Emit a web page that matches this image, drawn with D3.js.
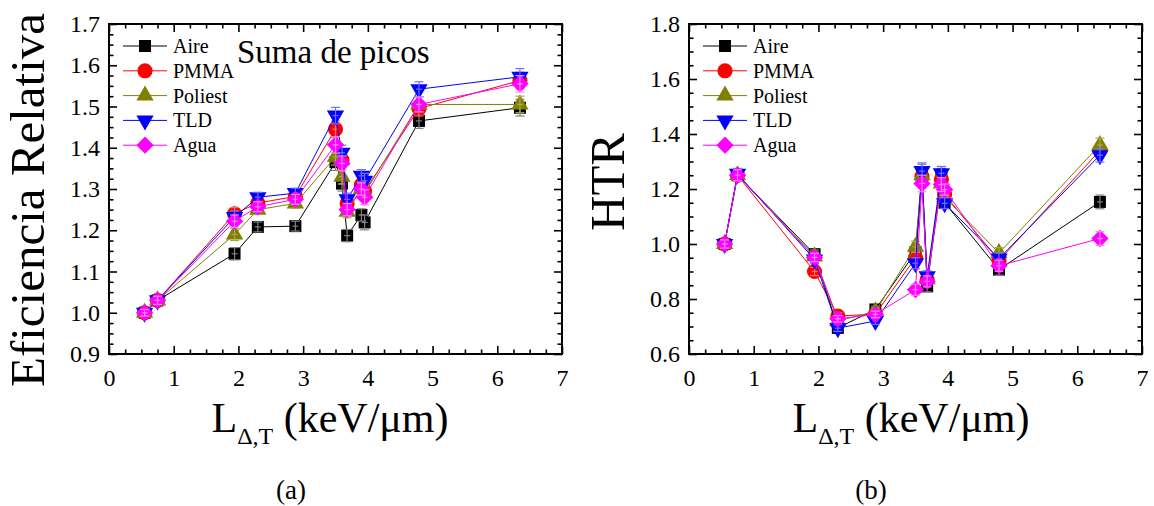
<!DOCTYPE html>
<html><head><meta charset="utf-8">
<script src="https://cdn.jsdelivr.net/npm/d3@7"></script>
<style>
body{margin:0;background:#fff}
svg{display:block;background:#fff}
text{font-family:"Liberation Serif","Times New Roman",serif;fill:#000}
</style>
</head><body>
<svg id="c" width="1154" height="506"></svg>
<script>
// ---------- DATA ----------
const seriesNames = ["Aire", "PMMA", "Poliest", "TLD", "Agua"];
const letX = [0.55, 0.75, 1.94, 2.30, 2.88, 3.50, 3.60, 3.68, 3.90, 3.95, 4.79, 6.35];

// (a) Eficiencia Relativa - Suma de picos
const efAire    = [1.000, 1.030, 1.143, 1.208, 1.210, 1.365, 1.313, 1.187, 1.237, 1.219, 1.465, 1.497];
const efPMMA    = [1.000, 1.030, 1.240, 1.266, 1.282, 1.445, 1.370, 1.265, 1.310, 1.295, 1.495, 1.563];
const efPoliest = [1.000, 1.030, 1.190, 1.250, 1.265, 1.378, 1.330, 1.245, 1.300, 1.290, 1.505, 1.505];
const efTLD     = [1.000, 1.030, 1.232, 1.280, 1.290, 1.478, 1.388, 1.275, 1.332, 1.320, 1.542, 1.572];
const efAgua    = [1.000, 1.030, 1.222, 1.257, 1.275, 1.407, 1.362, 1.250, 1.300, 1.280, 1.505, 1.555];
const efErr     = [0.008, 0.010, 0.015, 0.012, 0.012, 0.020, 0.018, 0.015, 0.015, 0.018, 0.018, 0.020];

// (b) HTR
const htrAire    = [1.000, 1.250, 0.963, 0.695, 0.762, 0.970, 1.260, 0.846, 1.250, 1.150, 0.907, 1.153];
const htrPMMA    = [1.000, 1.250, 0.900, 0.738, 0.745, 0.950, 1.245, 0.870, 1.235, 1.180, 0.940, 1.340];
const htrPoliest = [1.000, 1.250, 0.955, 0.720, 0.755, 0.990, 1.250, 0.872, 1.220, 1.170, 0.967, 1.360];
const htrTLD     = [1.000, 1.255, 0.944, 0.694, 0.720, 0.930, 1.265, 0.883, 1.257, 1.148, 0.947, 1.323];
const htrAgua    = [1.000, 1.250, 0.951, 0.728, 0.744, 0.834, 1.220, 0.864, 1.216, 1.198, 0.921, 1.020];
const htrErr     = [0.015, 0.020, 0.015, 0.012, 0.012, 0.020, 0.030, 0.020, 0.025, 0.020, 0.020, 0.025];

// Tick labels
const xTickVals = [0, 1, 2, 3, 4, 5, 6, 7];
const efTickVals = [0.9, 1.0, 1.1, 1.2, 1.3, 1.4, 1.5, 1.6, 1.7];
const htrTickVals = [0.6, 0.8, 1.0, 1.2, 1.4, 1.6, 1.8];

// ---------- STYLE ----------
const SERIF = '"Liberation Serif","Times New Roman",serif';
const colors = {Aire:"#000000", PMMA:"#ff0000", Poliest:"#808000", TLD:"#0000ff", Agua:"#ff00ff"};
const errColors = {Aire:"#808080", PMMA:"#ff7070", Poliest:"#a8a850", TLD:"#7070ff", Agua:"#ff80ff"};
const symbols = {
  Aire:   {type:d3.symbolSquare, size:144, rot:0},
  PMMA:   {type:d3.symbolCircle, size:180, rot:0},
  Poliest:{type:d3.symbolTriangle, size:130, rot:0},
  TLD:    {type:d3.symbolTriangle, size:130, rot:180},
  Agua:   {type:d3.symbolSquare, size:150, rot:45}
};

const svg = d3.select("#c");
svg.append("rect").attr("width",1154).attr("height",506).attr("fill","#fff");

function drawPanel(cfg) {
  const g = svg.append("g");
  const x = d3.scaleLinear().domain([0, 7]).range([cfg.left, cfg.right]);
  const y = d3.scaleLinear().domain(cfg.yDomain).range([cfg.bottom, cfg.top]);

  const xMinor = d3.range(0, 7.0001, 0.25).filter(v => Math.abs(v - Math.round(v)) > 1e-6);
  const yMinor = d3.range(cfg.yDomain[0], cfg.yDomain[1] + 1e-6, cfg.yMinorStep)
      .filter(v => cfg.yTicks.every(t => Math.abs(t - v) > 1e-6));

  function styleAxis(sel, fontSize) {
    sel.attr("font-family", SERIF);
    sel.select(".domain").remove();
    sel.selectAll(".tick line").attr("stroke", "#000").attr("stroke-width", 1.6);
    sel.selectAll(".tick text").style("font-size", fontSize + "px")
       .style("font-family", SERIF).attr("fill", "#000");
  }
  // bottom
  g.append("g").attr("transform", `translate(0,${cfg.bottom})`)
    .call(d3.axisBottom(x).tickValues(xTickVals).tickSize(-8).tickPadding(15).tickFormat(d3.format("d")))
    .call(s => styleAxis(s, 24));
  g.append("g").attr("transform", `translate(0,${cfg.bottom})`)
    .call(d3.axisBottom(x).tickValues(xMinor).tickSize(-4.5).tickFormat(""))
    .call(s => styleAxis(s, 24));
  // top
  g.append("g").attr("transform", `translate(0,${cfg.top})`)
    .call(d3.axisTop(x).tickValues(xTickVals).tickSize(-8).tickFormat(""))
    .call(s => styleAxis(s, 24));
  g.append("g").attr("transform", `translate(0,${cfg.top})`)
    .call(d3.axisTop(x).tickValues(xMinor).tickSize(-4.5).tickFormat(""))
    .call(s => styleAxis(s, 24));
  // left
  g.append("g").attr("transform", `translate(${cfg.left},0)`)
    .call(d3.axisLeft(y).tickValues(cfg.yTicks).tickSize(-8).tickPadding(9).tickFormat(d3.format(".1f")))
    .call(s => styleAxis(s, 24));
  g.append("g").attr("transform", `translate(${cfg.left},0)`)
    .call(d3.axisLeft(y).tickValues(yMinor).tickSize(-4.5).tickFormat(""))
    .call(s => styleAxis(s, 24));
  // right
  g.append("g").attr("transform", `translate(${cfg.right},0)`)
    .call(d3.axisRight(y).tickValues(cfg.yTicks).tickSize(-8).tickFormat(""))
    .call(s => styleAxis(s, 24));
  g.append("g").attr("transform", `translate(${cfg.right},0)`)
    .call(d3.axisRight(y).tickValues(yMinor).tickSize(-4.5).tickFormat(""))
    .call(s => styleAxis(s, 24));

  // frame
  g.append("rect").attr("x", cfg.left).attr("y", cfg.top)
    .attr("width", cfg.right - cfg.left).attr("height", cfg.bottom - cfg.top)
    .attr("fill", "none").attr("stroke", "#000").attr("stroke-width", 2);

  // series
  const line = d3.line().x(d => x(d[0])).y(d => y(d[1]));
  seriesNames.forEach((name, si) => {
    const vals = cfg.series[si];
    const pts = letX.map((xv, i) => [xv, vals[i], cfg.err[i]]);
    const sg = g.append("g");
    sg.append("path").datum(pts).attr("d", line)
      .attr("fill", "none").attr("stroke", colors[name]).attr("stroke-width", 1);
    const sym = symbols[name];
    sg.selectAll("path.m").data(pts).join("path").attr("class", "m")
      .attr("d", d3.symbol().type(sym.type).size(sym.size))
      .attr("transform", d => `translate(${x(d[0])},${y(d[1])}) rotate(${sym.rot})`)
      .attr("fill", colors[name]);
    const eb = sg.selectAll("g.eb").data(pts).join("g").attr("class", "eb")
      .attr("stroke", errColors[name]).attr("stroke-width", 1.2);
    eb.append("line").attr("x1", d => x(d[0])).attr("x2", d => x(d[0]))
      .attr("y1", d => y(d[1] - d[2])).attr("y2", d => y(d[1] + d[2]));
    eb.append("line").attr("x1", d => x(d[0]) - 4.5).attr("x2", d => x(d[0]) + 4.5)
      .attr("y1", d => y(d[1] + d[2])).attr("y2", d => y(d[1] + d[2]));
    eb.append("line").attr("x1", d => x(d[0]) - 4.5).attr("x2", d => x(d[0]) + 4.5)
      .attr("y1", d => y(d[1] - d[2])).attr("y2", d => y(d[1] - d[2]));
    eb.append("line").attr("x1", d => x(d[0]) - 3).attr("x2", d => x(d[0]) + 3)
      .attr("y1", d => y(d[1])).attr("y2", d => y(d[1]));
  });

  // legend
  const lg = g.append("g");
  seriesNames.forEach((name, i) => {
    const ly = cfg.top + 22 + i * 24.8;
    const lx0 = cfg.left + 14;
    lg.append("line").attr("x1", lx0).attr("x2", lx0 + 44).attr("y1", ly).attr("y2", ly)
      .attr("stroke", colors[name]).attr("stroke-width", 1);
    const sym = symbols[name];
    lg.append("path").attr("d", d3.symbol().type(sym.type).size(sym.size))
      .attr("transform", `translate(${lx0 + 22},${ly}) rotate(${sym.rot})`)
      .attr("fill", colors[name]);
    lg.append("text").attr("x", lx0 + 50).attr("y", ly + 7)
      .style("font-size", "20px").style("font-family", SERIF).text(name);
  });

  // y title
  g.append("text")
    .attr("transform", `translate(${cfg.yTitleX},${cfg.yTitleY}) rotate(-90)`)
    .attr("text-anchor", "middle").style("font-size", cfg.yTitleSize + "px")
    .style("font-family", SERIF).text(cfg.yTitle);

  // x title with subscript
  const xt = g.append("text").attr("x", cfg.xTitleX).attr("y", 432)
    .attr("text-anchor", "middle").style("font-size", "42px").style("font-family", SERIF);
  xt.append("tspan").text("L");
  xt.append("tspan").attr("dy", 12).style("font-size", "24px").text("Δ,T");
  xt.append("tspan").attr("dy", -12).text(" (keV/μm)");

  // caption
  g.append("text").attr("x", cfg.capX).attr("y", 499).attr("text-anchor", "middle")
    .style("font-size", "27px").style("font-family", SERIF).text(cfg.caption);
  return {x, y, g};
}

const pA = drawPanel({
  left: 109, right: 562, top: 24, bottom: 354,
  yDomain: [0.9, 1.7], yTicks: efTickVals, yMinorStep: 0.025,
  series: [efAire, efPMMA, efPoliest, efTLD, efAgua], err: efErr,
  yTitle: "Eficiencia Relativa", yTitleX: 44, yTitleY: 200, yTitleSize: 49,
  xTitleX: 330, capX: 291, caption: "(a)"
});
pA.g.append("text").attr("x", 237).attr("y", 63).style("font-size", "33px")
  .style("font-family", SERIF).text("Suma de picos");

drawPanel({
  left: 689, right: 1142, top: 24, bottom: 354,
  yDomain: [0.6, 1.8], yTicks: htrTickVals, yMinorStep: 0.05,
  series: [htrAire, htrPMMA, htrPoliest, htrTLD, htrAgua], err: htrErr,
  yTitle: "HTR", yTitleX: 624, yTitleY: 182, yTitleSize: 49,
  xTitleX: 911, capX: 871, caption: "(b)"
});
</script>
</body></html>
